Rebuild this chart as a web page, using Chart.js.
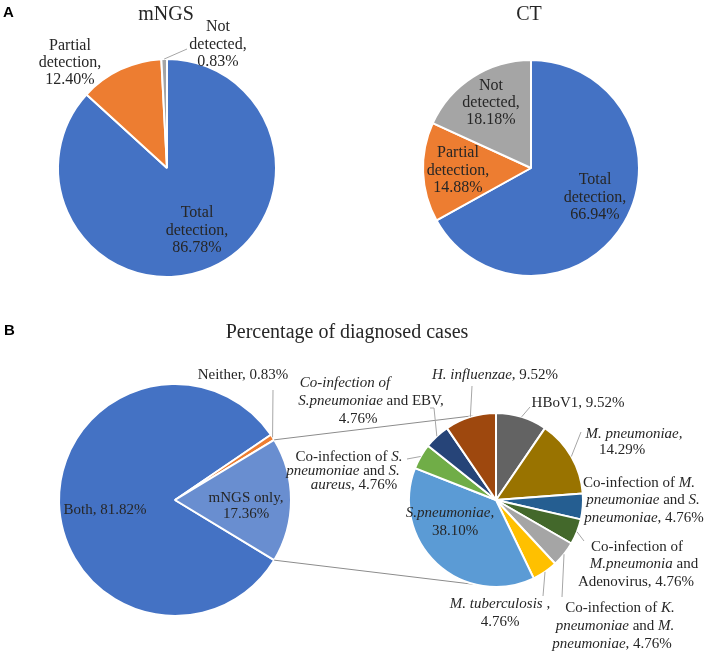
<!DOCTYPE html>
<html>
<head>
<meta charset="utf-8">
<script src="https://cdn.jsdelivr.net/npm/chart.js@4.4.1/dist/chart.umd.min.js"></script>
<style>
  body { margin: 0; background: #fff; }
  #wrap { position: relative; width: 709px; height: 655px; overflow: hidden; }
  canvas { position: absolute; left: 0; top: 0; }
  .title { position: absolute; font-family: "Liberation Serif", "Times New Roman", serif; font-size: 20px; line-height: 20px; color: #262626; white-space: nowrap; transform: translateX(-50%); }
  .panel { position: absolute; font-family: "Liberation Sans", Arial, sans-serif; font-weight: bold; font-size: 15px; line-height: 15px; color: #000; }
</style>
</head>
<body>
<div id="wrap">
  <canvas id="mngs" width="709" height="655"></canvas>
  <canvas id="ct" width="709" height="655"></canvas>
  <canvas id="diag" width="709" height="655"></canvas>
  <canvas id="path" width="709" height="655"></canvas>
  <div class="panel" style="left:3px;top:4px">A</div>
  <div class="title" style="left:166px;top:3px">mNGS</div>
  <div class="title" style="left:529px;top:3px">CT</div>
  <div class="panel" style="left:4px;top:322px">B</div>
  <div class="title" style="left:347px;top:321px">Percentage of diagnosed cases</div>
</div>
<script>
// --- data ---
const detectLabels = ['Total detection', 'Partial detection', 'Not detected'];
const mngsValues = [86.78, 12.40, 0.83];
const ctValues = [66.94, 14.88, 18.18];

const diagLabels = ['Both', 'Neither', 'mNGS only'];
const diagValues = [81.82, 0.83, 17.36];

const pathLabels = [
  'HBoV1', 'M. pneumoniae', 'Co-infection of M. pneumoniae and S. pneumoniae',
  'Co-infection of M.pneumonia and Adenovirus', 'Co-infection of K. pneumoniae and M. pneumoniae',
  'M. tuberculosis', 'S.pneumoniae', 'Co-infection of S. pneumoniae and S. aureus',
  'Co-infection of S.pneumoniae and EBV', 'H. influenzae'
];
const pathValues = [9.52, 14.29, 4.76, 4.76, 4.76, 4.76, 38.10, 4.76, 4.76, 9.52];

// --- styles / layout ---
const W = 709, H = 655;
const detectColors = ['#4472C4', '#ED7D31', '#A5A5A5'];
const diagColors = ['#4472C4', '#ED7D31', '#698ED0'];
const pathColors = ['#636363', '#997300', '#255E91', '#43682B', '#A5A5A5',
  '#FFC000', '#5B9BD5', '#70AD47', '#264478', '#9E480E'];
const textColor = '#262626';

// label text: '*' toggles italic, {v} is the value
const mngsLayout = [
  { x: 197, y: 213, lh: 17.5, size: 16, lines: ['Total', 'detection,', '{v}'] },
  { x: 70, y: 46, lh: 17, size: 16, lines: ['Partial', 'detection,', '{v}'] },
  { x: 218, y: 27, lh: 17.5, size: 16, lines: ['Not', 'detected,', '{v}'], leader: [[187, 49]] }
];
const ctLayout = [
  { x: 595, y: 180, lh: 17.5, size: 16, lines: ['Total', 'detection,', '{v}'] },
  { x: 458, y: 153, lh: 17.5, size: 16, lines: ['Partial', 'detection,', '{v}'] },
  { x: 491, y: 86, lh: 17, size: 16, lines: ['Not', 'detected,', '{v}'] }
];
const diagLayout = [
  { x: 105, y: 510, size: 15, lines: ['Both, {v}'] },
  { x: 243, y: 375, size: 15, lines: ['Neither, {v}'], leader: [[273, 390]] },
  { x: 246, y: 498, lh: 16, size: 15, lines: ['mNGS only,', '{v}'] }
];
const pathLayout = [
  { x: 578, y: 403, size: 15, lines: ['HBoV1, {v}'], leader: [[530, 407]] },
  { xs: [634, 622], y: 434, lh: 16, size: 15, lines: ['*M. pneumoniae,*', '{v}'], leader: [[581, 432]] },
  { xs: [639, 643, 644], y: 483, lh: 17.5, size: 15, lines: ['Co-infection of *M.*', '*pneumoniae* and *S.*', '*pneumoniae*, {v}'] },
  { xs: [637, 644, 636], y: 547, lh: 17.5, size: 15, lines: ['Co-infection of', '*M.pneumonia* and', 'Adenovirus, {v}'], leader: [[584, 541]] },
  { xs: [620, 615, 612], y: 608, lh: 18, size: 15, lines: ['Co-infection of *K.*', '*pneumoniae* and *M.*', '*pneumoniae*, {v}'], leader: [[562, 597]] },
  { x: 500, y: 604, lh: 18, size: 15, lines: ['*M. tuberculosis* ,', '{v}'], leader: [[543, 596]] },
  { xs: [450, 455], y: 513, lh: 18, size: 15, lines: ['*S.pneumoniae,*', '{v}'] },
  { xs: [349, 343, 354], y: 457, lh: 14, size: 15, lines: ['Co-infection of *S.*', '*pneumoniae* and *S.*', '*aureus*, {v}'], leader: [[407, 459]] },
  { xs: [345, 371, 358], y: 383, lh: 18, size: 15, lines: ['*Co-infection of*', '*S.pneumoniae* and EBV,', '{v}'], leader: [[434, 408], [430, 408]] },
  { x: 495, y: 375, size: 15, lines: ['*H. influenzae*, {v}'], leader: [[472, 386]] }
];

function fontOf(size, italic) {
  return (italic ? 'italic ' : '') + size + 'px "Liberation Serif", "Times New Roman", serif';
}

function drawTextLine(ctx, text, cx, y, size) {
  const segs = text.split('*').map((t, k) => ({ t, it: k % 2 === 1 })).filter(s => s.t.length);
  let w = 0;
  segs.forEach(s => { ctx.font = fontOf(size, s.it); s.w = ctx.measureText(s.t).width; w += s.w; });
  let x = cx - w / 2;
  segs.forEach(s => { ctx.font = fontOf(size, s.it); ctx.fillText(s.t, x, y); x += s.w; });
}

function labelPlugin(layout, values) {
  return {
    id: 'sliceLabels',
    afterDraw(chart) {
      const ctx = chart.ctx;
      const arcs = chart.getDatasetMeta(0).data;
      ctx.save();
      layout.forEach((lab, i) => {
        if (lab.leader) {
          const a = arcs[i];
          const mid = (a.startAngle + a.endAngle) / 2;
          ctx.beginPath();
          ctx.moveTo(a.x + Math.cos(mid) * a.outerRadius, a.y + Math.sin(mid) * a.outerRadius);
          lab.leader.forEach(p => ctx.lineTo(p[0], p[1]));
          ctx.strokeStyle = '#a6a6a6';
          ctx.lineWidth = 1;
          ctx.stroke();
        }
        ctx.fillStyle = textColor;
        ctx.textBaseline = 'middle';
        ctx.textAlign = 'left';
        const v = values[i].toFixed(2) + '%';
        lab.lines.forEach((line, k) => {
          const cx = lab.xs ? lab.xs[k] : lab.x;
          drawTextLine(ctx, line.replace('{v}', v), cx, lab.y + k * (lab.lh || 0), lab.size);
        });
      });
      ctx.restore();
    }
  };
}

function makePie(id, labels, values, colors, cx, cy, r, rotation, plugins) {
  const b = 2;
  return new Chart(document.getElementById(id), {
    type: 'pie',
    data: {
      labels: labels,
      datasets: [{ data: values, backgroundColor: colors, borderColor: '#fff', borderWidth: b, hoverOffset: 0 }]
    },
    options: {
      responsive: false,
      animation: false,
      events: [],
      rotation: rotation,
      layout: { padding: { left: cx - r - b / 2, top: cy - r - b / 2, right: W - cx - r - b / 2, bottom: H - cy - r - b / 2 } },
      plugins: { legend: { display: false }, tooltip: { enabled: false } }
    },
    plugins: plugins
  });
}

makePie('mngs', detectLabels, mngsValues, detectColors, 167, 168, 109, 0, [labelPlugin(mngsLayout, mngsValues)]);
makePie('ct', detectLabels, ctValues, detectColors, 531, 168, 108, 0, [labelPlugin(ctLayout, ctValues)]);

// put the "mNGS only" slice centred on the right (3 o'clock)
const diagSum = diagValues.reduce((a, b) => a + b, 0);
const diagRotation = 90 - (diagValues[0] + diagValues[1]) / diagSum * 360 - diagValues[2] / diagSum * 180;
const diagChart = makePie('diag', diagLabels, diagValues, diagColors, 175, 500, 116, diagRotation, [labelPlugin(diagLayout, diagValues)]);

const connectorPlugin = {
  id: 'connectors',
  beforeDatasetsDraw(chart) {
    const arc = diagChart.getDatasetMeta(0).data[2];
    const sec = chart.getDatasetMeta(0).data[0];
    const ctx = chart.ctx;
    const r0 = arc.outerRadius;
    ctx.save();
    ctx.strokeStyle = '#8c8c8c';
    ctx.lineWidth = 1;
    ctx.beginPath();
    ctx.moveTo(arc.x + Math.cos(arc.startAngle) * r0, arc.y + Math.sin(arc.startAngle) * r0);
    ctx.lineTo(sec.x, sec.y - sec.outerRadius);
    ctx.moveTo(arc.x + Math.cos(arc.endAngle) * r0, arc.y + Math.sin(arc.endAngle) * r0);
    ctx.lineTo(sec.x, sec.y + sec.outerRadius);
    ctx.stroke();
    ctx.restore();
  }
};
makePie('path', pathLabels, pathValues, pathColors, 496, 500, 87, 0, [connectorPlugin, labelPlugin(pathLayout, pathValues)]);
</script>
</body>
</html>
